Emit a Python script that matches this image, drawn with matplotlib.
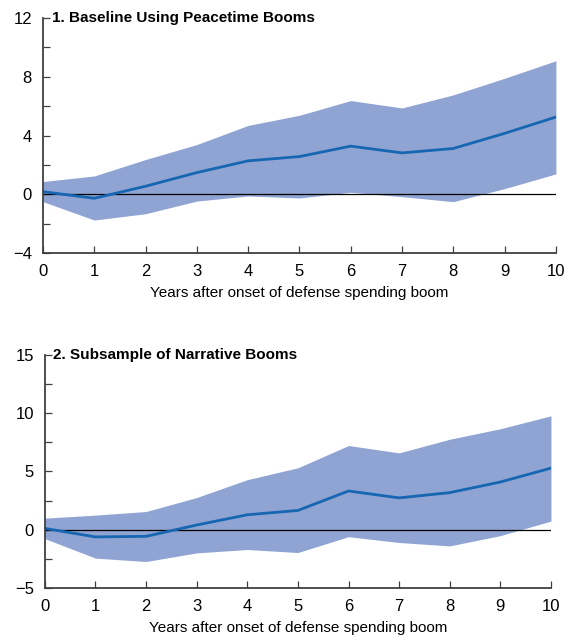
import numpy as np
import matplotlib
matplotlib.use('Agg')
import matplotlib.pyplot as plt
from matplotlib.ticker import MultipleLocator

plt.rcParams['font.family'] = ['Liberation Sans', 'DejaVu Sans']

years = np.arange(0, 11)

# panel 1: baseline, peacetime booms
base_mid = [0.18, -0.27, 0.55, 1.48, 2.28, 2.57, 3.28, 2.82, 3.12, 4.15, 5.26]
base_hi = [0.87, 1.25, 2.37, 3.39, 4.69, 5.38, 6.38, 5.88, 6.77, 7.90, 9.09]
base_lo = [-0.50, -1.75, -1.32, -0.46, -0.11, -0.25, 0.14, -0.16, -0.50, 0.39, 1.39]

# panel 2: narrative booms only
narr_mid = [0.11, -0.62, -0.57, 0.40, 1.28, 1.65, 3.32, 2.73, 3.18, 4.09, 5.28]
narr_hi = [0.99, 1.25, 1.56, 2.76, 4.29, 5.31, 7.22, 6.59, 7.76, 8.66, 9.77]
narr_lo = [-0.77, -2.44, -2.73, -1.99, -1.70, -1.96, -0.60, -1.10, -1.39, -0.51, 0.74]

band_col = '#8FA4D2'
line_col = '#1666B2'
spine_col = '#404040'

fig = plt.figure(figsize=(5.68, 6.44), dpi=100)
ax1 = fig.add_axes([0.0757, 0.607, 0.903, 0.365])
ax2 = fig.add_axes([0.079, 0.087, 0.891, 0.362])

def panel(ax, mid, lo, hi, title, ylim, step):
    ax.fill_between(years, lo, hi, color=band_col, lw=0)
    ax.axhline(0, color='black', lw=0.9)
    ax.plot(years, mid, color=line_col, lw=2)
    ax.set_xlim(0, 10)
    ax.set_ylim(*ylim)
    ax.yaxis.set_major_locator(MultipleLocator(step))
    ax.yaxis.set_minor_locator(MultipleLocator(step / 2))
    ax.xaxis.set_major_locator(MultipleLocator(1))
    for s in ['top', 'right']:
        ax.spines[s].set_visible(False)
    for s in ['left', 'bottom']:
        ax.spines[s].set_color(spine_col)
        ax.spines[s].set_linewidth(1.3)
    ax.tick_params(axis='both', which='both', direction='in', color=spine_col,
                   labelsize=12, width=0.9)
    ax.tick_params(axis='both', which='major', length=5, pad=8)
    ax.tick_params(axis='both', which='minor', length=5)
    ax.set_yticklabels([('\u2212' + str(int(-v))) if v < 0 else str(int(v))
                        for v in ax.get_yticks()])
    ax.set_xlabel('Years after onset of defense spending boom', fontsize=11, labelpad=5)
    ax.text(0.017, 1.0, title, transform=ax.transAxes, ha='left', va='center',
            fontsize=11, fontweight='bold')

panel(ax1, base_mid, base_lo, base_hi, '1. Baseline Using Peacetime Booms', (-4, 12), 4)
panel(ax2, narr_mid, narr_lo, narr_hi, '2. Subsample of Narrative Booms', (-5, 15), 5)

fig.savefig('out.png', dpi=100)
